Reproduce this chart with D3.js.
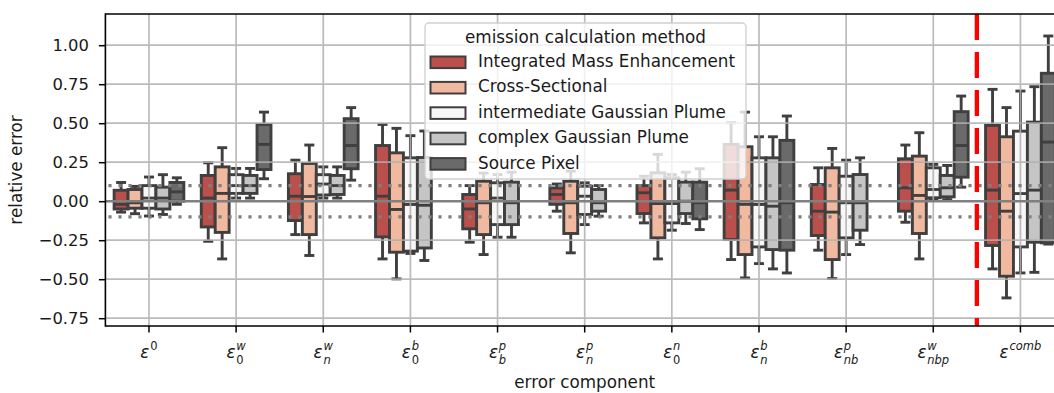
<!DOCTYPE html>
<html><head><meta charset="utf-8">
<script src="https://cdn.jsdelivr.net/npm/d3@7"></script>
<style>body{margin:0;background:#fff} text{font-family:"DejaVu Sans",sans-serif;fill:#1a1a1a}</style>
</head><body><svg id="c" width="1054" height="393"></svg>
<script>
// ---- data ----
const categories = ["eps0","eps0w","epsnw","eps0b","epsbp","epsnp","eps0n","epsnb","epsnbp","epsnbpw","epscomb"];
const catSup = ["0","w","w","b","p","p","n","b","p","w","comb"];
const catSub = ["","0","n","0","b","n","0","n","nb","nbp",""];
const methods = ["Integrated Mass Enhancement","Cross-Sectional","intermediate Gaussian Plume","complex Gaussian Plume","Source Pixel"];
const methodColors = ["#bb4f4b","#f0b9a0","#f7f7f7","#c5c5c5","#6a6a6a"];
// five-number summaries per category: [whiskerLow, q1, median, q3, whiskerHigh]
const imeStats = [[-0.07,-0.05,-0.02,0.07,0.12],[-0.257,-0.165,0.02,0.165,0.246],[-0.214,-0.124,0.032,0.176,0.263],[-0.37,-0.229,0.032,0.357,0.492],[-0.263,-0.177,-0.05,0.043,0.10],[-0.064,-0.02,0.043,0.085,0.11],[-0.139,-0.079,0.054,0.10,0.16],[-0.374,-0.246,0.071,0.364,0.503],[-0.314,-0.22,-0.064,0.107,0.214],[-0.135,-0.064,0.086,0.272,0.36],[-0.434,-0.284,0.071,0.486,0.717]];
const csStats = [[-0.08,-0.045,-0.01,0.075,0.095],[-0.37,-0.2,0.05,0.22,0.343],[-0.348,-0.214,0.03,0.242,0.36],[-0.498,-0.327,-0.053,0.31,0.467],[-0.342,-0.214,-0.01,0.128,0.18],[-0.331,-0.207,-0.01,0.128,0.193],[-0.37,-0.235,-0.015,0.182,0.30],[-0.492,-0.342,-0.02,0.349,0.571],[-0.496,-0.374,-0.07,0.214,0.338],[-0.37,-0.207,0.037,0.289,0.439],[-0.62,-0.481,-0.064,0.413,0.60]];
const igpStats = [[-0.095,-0.045,0.02,0.10,0.155],[0.02,0.05,0.10,0.17,0.21],[0.02,0.04,0.11,0.17,0.22],[-0.335,-0.32,-0.021,0.278,0.42],[-0.231,-0.15,0.02,0.118,0.171],[-0.15,-0.085,0.032,0.096,0.118],[-0.186,-0.139,-0.015,0.15,0.171],[-0.40,-0.293,-0.021,0.278,0.413],[-0.342,-0.235,-0.01,0.16,0.263],[0.01,0.022,0.075,0.214,0.236],[-0.46,-0.293,0.049,0.449,0.706]];
const cgpStats = [[-0.085,-0.05,0.02,0.09,0.17],[0.02,0.05,0.10,0.165,0.21],[0.02,0.043,0.10,0.165,0.22],[-0.38,-0.30,-0.026,0.28,0.45],[-0.231,-0.15,-0.01,0.122,0.186],[-0.096,-0.064,-0.01,0.075,0.10],[-0.143,-0.079,0.0,0.122,0.186],[-0.434,-0.31,-0.032,0.278,0.413],[-0.278,-0.186,-0.01,0.171,0.278],[0.01,0.028,0.086,0.165,0.229],[-0.456,-0.263,0.071,0.507,0.734]];
const spStats = [[-0.02,0.0,0.06,0.12,0.15],[0.144,0.203,0.364,0.492,0.571],[0.135,0.208,0.357,0.529,0.60],null,null,null,[-0.182,-0.113,-0.01,0.122,0.208],[-0.46,-0.314,-0.01,0.39,0.546],null,[0.09,0.154,0.357,0.574,0.674],[-0.275,-0.267,0.379,0.82,1.059]];
const yTicks = [-0.75,-0.5,-0.25,0,0.25,0.5,0.75,1.0];
const refLines = [0.1,-0.1];
const dividerAt = 9.5;

// ---- layout ----
const svg = d3.select("#c");
const M = {left:105.4,right:1064,top:14,bottom:326};
const x = d3.scaleBand().domain(categories).range([M.left,M.right]);
const bw = x.bandwidth();
const xh = d3.scaleBand().domain(methods).range([0.1*bw,0.9*bw]);
const y = d3.scaleLinear().domain([-0.8,1.2]).range([M.bottom,M.top]);
const color = d3.scaleOrdinal().domain(methods).range(methodColors);
const edge = "#3f3f3f";
const SW = 2.9;
const allStats = [imeStats,csStats,igpStats,cgpStats,spStats];

const boxes = [];
allStats.forEach((arr,mi)=>arr.forEach((s,ci)=>{ if(s) boxes.push({m:methods[mi],c:categories[ci],s}); }));

const gb = svg.append("g");
const bg = gb.selectAll("g").data(boxes).join("g")
  .attr("transform",d=>`translate(${x(d.c)+xh(d.m)},0)`);
const w = xh.bandwidth(), capW = 10;
bg.append("line").attr("x1",w/2).attr("x2",w/2).attr("y1",d=>y(d.s[4])).attr("y2",d=>y(d.s[3])).attr("stroke",edge).attr("stroke-width",SW);
bg.append("line").attr("x1",w/2).attr("x2",w/2).attr("y1",d=>y(d.s[1])).attr("y2",d=>y(d.s[0])).attr("stroke",edge).attr("stroke-width",SW);
bg.append("line").attr("x1",w/2-capW/2).attr("x2",w/2+capW/2).attr("y1",d=>y(d.s[4])).attr("y2",d=>y(d.s[4])).attr("stroke",edge).attr("stroke-width",SW);
bg.append("line").attr("x1",w/2-capW/2).attr("x2",w/2+capW/2).attr("y1",d=>y(d.s[0])).attr("y2",d=>y(d.s[0])).attr("stroke",edge).attr("stroke-width",SW);
bg.append("rect").attr("x",0).attr("width",w).attr("y",d=>y(d.s[3])).attr("height",d=>y(d.s[1])-y(d.s[3]))
  .attr("fill",d=>color(d.m)).attr("stroke",edge).attr("stroke-width",SW);
bg.append("line").attr("x1",0).attr("x2",w).attr("y1",d=>y(d.s[2])).attr("y2",d=>y(d.s[2])).attr("stroke",edge).attr("stroke-width",SW);

// grid (drawn over boxes as in reference)
const gg = svg.append("g").attr("stroke","#b0b0b0").attr("stroke-width",1.7).attr("opacity",0.85);
gg.selectAll(".gx").data(categories).join("line").attr("x1",d=>x(d)+bw/2).attr("x2",d=>x(d)+bw/2).attr("y1",M.top).attr("y2",M.bottom);
gg.selectAll(".gy").data(yTicks).join("line").attr("x1",M.left).attr("x2",M.right).attr("y1",d=>y(d)).attr("y2",d=>y(d));

// zero line and dotted reference lines
svg.append("line").attr("x1",M.left).attr("x2",M.right).attr("y1",y(0)).attr("y2",y(0)).attr("stroke","#808080").attr("stroke-width",2.6);
svg.selectAll(".ref").data(refLines).join("line").attr("x1",M.left+3).attr("x2",M.right).attr("y1",d=>y(d)).attr("y2",d=>y(d))
  .attr("stroke","#808080").attr("stroke-width",3.2).attr("stroke-dasharray","3.2,6.8");

// red divider
const xIdx = d3.scaleLinear().domain([0,categories.length-1]).range([x(categories[0])+bw/2, x(categories[categories.length-1])+bw/2]);
svg.append("line").attr("x1",xIdx(dividerAt)).attr("x2",xIdx(dividerAt)).attr("y1",M.top).attr("y2",M.bottom)
  .attr("stroke","#ff0000").attr("stroke-width",4.3).attr("stroke-dasharray","26,12");

// spines
const sp = svg.append("g").attr("stroke","#000").attr("stroke-width",1.6).attr("fill","none");
sp.append("line").attr("x1",M.left).attr("x2",M.left).attr("y1",M.top-0.8).attr("y2",M.bottom+0.8);
sp.append("line").attr("x1",M.left).attr("x2",M.right).attr("y1",M.top).attr("y2",M.top);
sp.append("line").attr("x1",M.left).attr("x2",M.right).attr("y1",M.bottom).attr("y2",M.bottom);

// y axis
const ya = svg.append("g").attr("transform",`translate(${M.left},0)`)
  .call(d3.axisLeft(y).tickValues(yTicks).tickSize(6.5).tickPadding(10).tickFormat(d3.format(".2f")));
ya.select(".domain").remove();
ya.selectAll(".tick line").attr("stroke","#000").attr("stroke-width",1.5);
ya.selectAll(".tick text").attr("font-size","16.4px").attr("font-family","DejaVu Sans").attr("fill","#1a1a1a");

// x axis
const xa = svg.append("g").attr("transform",`translate(0,${M.bottom})`)
  .call(d3.axisBottom(x).tickSize(6.5).tickFormat(""));
xa.select(".domain").remove();
xa.selectAll(".tick line").attr("stroke","#000").attr("stroke-width",1.5);

// math-style tick labels (single text element each, with tspans)
function measure(str,size,italic){
  const t = svg.append("text").attr("font-size",size).attr("font-style",italic?"italic":"normal").text(str);
  const wd = t.node().getComputedTextLength(); t.remove(); return wd;
}
const lab = svg.append("g");
const scriptSize = "11.5px";
categories.forEach((c,i)=>{
  const baseW = measure("ε","16.8px",true);
  const supIt = /[a-z]/.test(catSup[i]), subIt = /[a-z]/.test(catSub[i]);
  const supW = measure(catSup[i],scriptSize,supIt);
  const hasSub = catSub[i] !== "";
  const subW = hasSub ? measure(catSub[i],scriptSize,subIt) : 0;
  const tot = baseW + 0.8 + Math.max(supW,subW);
  const x0 = x(c)+bw/2-tot/2, yb = 358;
  const t = lab.append("text").attr("x",x0).attr("y",yb);
  t.append("tspan").attr("font-size","16.8px").attr("font-style","italic").text("ε");
  t.append("tspan").attr("x",x0+baseW+0.8).attr("y",yb+(hasSub?-8:-8)).attr("font-size",scriptSize)
    .attr("font-style",supIt?"italic":"normal").text(catSup[i]);
  if(hasSub){
    t.append("tspan").attr("x",x0+baseW+0.8).attr("y",yb+6).attr("font-size",scriptSize)
      .attr("font-style",subIt?"italic":"normal").text(catSub[i]);
  }
});

// axis titles
svg.append("text").attr("x",(M.left+M.right)/2).attr("y",388).attr("text-anchor","middle").attr("font-size","16.8px").text("error component");
svg.append("text").attr("transform",`translate(22,${(M.top+M.bottom)/2}) rotate(-90)`).attr("text-anchor","middle").attr("font-size","16.8px").text("relative error");

// legend
const L = {x:425,y:23,w:321,h:156};
const lg = svg.append("g");
lg.append("rect").attr("x",L.x).attr("y",L.y).attr("width",L.w).attr("height",L.h).attr("rx",4)
  .attr("fill","#fff").attr("fill-opacity",0.8).attr("stroke","#d0d0d0").attr("stroke-width",1.3);
lg.append("text").attr("x",L.x+L.w/2).attr("y",43).attr("text-anchor","middle").attr("font-size","16.8px").text("emission calculation method");
const li = lg.selectAll(".li").data(methods).join("g").attr("transform",(d,i)=>`translate(0,${67+25.4*i})`);
li.append("rect").attr("x",430.5).attr("y",-10.5).attr("width",35).attr("height",11.6).attr("fill",d=>color(d)).attr("stroke",edge).attr("stroke-width",2);
li.append("text").attr("x",478).attr("y",0).attr("font-size","16.8px").text(d=>d);
</script></body></html>
